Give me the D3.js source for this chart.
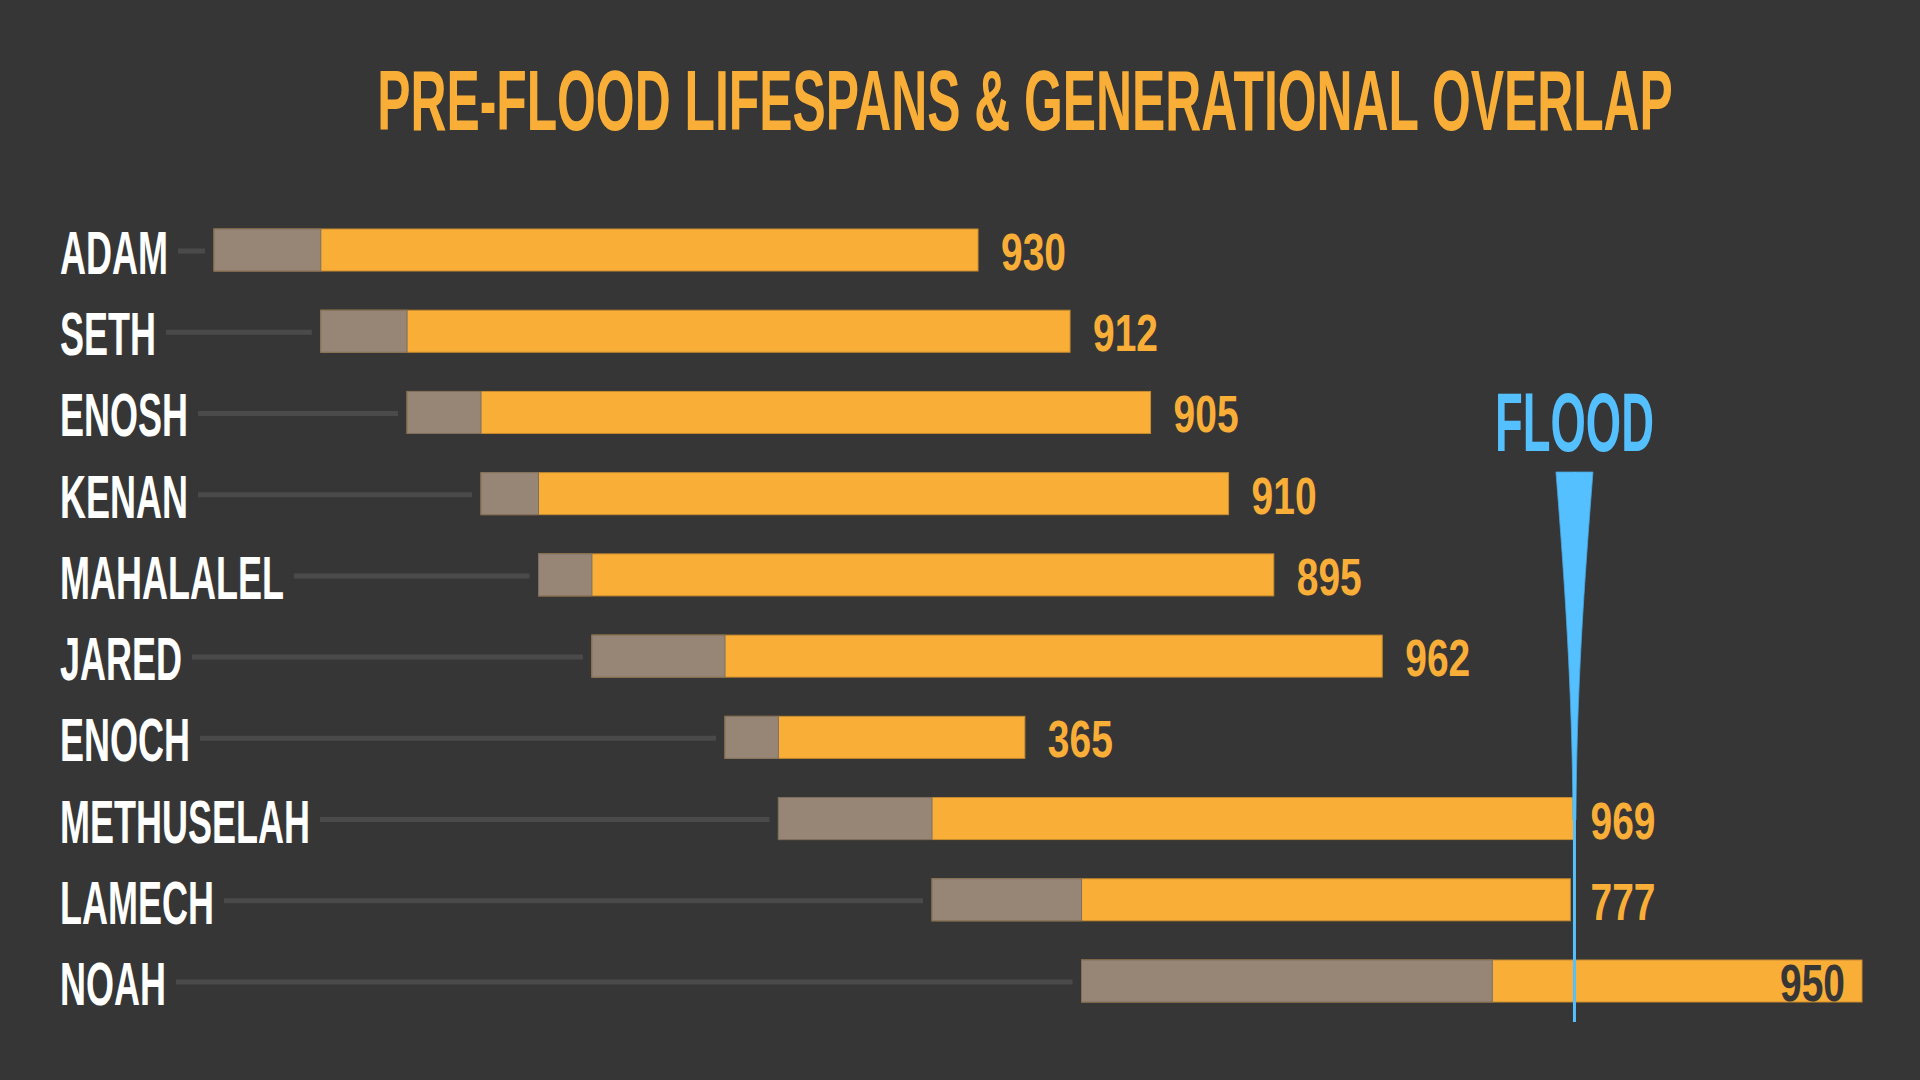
<!DOCTYPE html>
<html>
<head>
<meta charset="utf-8">
<script src="https://cdn.jsdelivr.net/npm/d3@7"></script>
<style>
  html, body { margin: 0; padding: 0; background: #363636; }
  svg { display: block; }
  text { font-family: "Liberation Sans Narrow", "Liberation Sans", "DejaVu Sans Condensed", Arial, sans-serif; font-weight: 700; }
</style>
</head>
<body>
<svg id="chart" width="1920" height="1080"></svg>
<script>
// ---- data ----
const names    = ["ADAM","SETH","ENOSH","KENAN","MAHALALEL","JARED","ENOCH","METHUSELAH","LAMECH","NOAH"];
const bornYear = [0, 130, 235, 325, 395, 460, 622, 687, 874, 1056];   // year after creation
const begatAge = [130, 105, 90, 70, 65, 162, 65, 187, 182, 500];      // age at next named son
const lifespan = [930, 912, 905, 910, 895, 962, 365, 969, 777, 950];
const floodYear = 1656;
const titleText = "PRE-FLOOD LIFESPANS & GENERATIONAL OVERLAP";
const floodLabel = "FLOOD";

const rows = names.map((n, i) => ({
  name: n, born: bornYear[i], begat: bornYear[i] + begatAge[i],
  died: bornYear[i] + lifespan[i], life: lifespan[i], inside: n === "NOAH"
}));

// ---- styling ----
const C = { bg: "#363636", orange: "#F9AE38", grey: "#978676", blue: "#55C0FF", white: "#FFFFFF", conn: "#4A4A4A" };

const svg = d3.select("#chart");
svg.append("rect").attr("width", 1920).attr("height", 1080).attr("fill", C.bg);

const x = d3.scaleLinear().domain([0, 2006]).range([214, 1862]);
const y = d3.scalePoint().domain(names).range([250, 981]);
const barH = 42;

// helper: measure natural width of a string at a font size
function measure(str, size) {
  const t = svg.append("text").attr("font-size", size).text(str);
  const w = t.node().getComputedTextLength();
  t.remove();
  return w;
}
const sName  = 108 / measure("ADAM", 61);
const sVal   = 65 / measure("930", 52);
const sTitle = 1296 / measure(titleText, 85);
const sFlood = 159 / measure(floodLabel, 84);

// title
svg.append("text")
  .attr("transform", `translate(1025,130) scale(${sTitle},1)`)
  .attr("text-anchor", "middle")
  .attr("font-size", 85)
  .attr("fill", C.orange)
  .text(titleText);

// rows
const g = svg.append("g");
const row = g.selectAll("g.row").data(rows).join("g").attr("class", "row");

row.append("text")
  .attr("class", "name")
  .attr("transform", d => `translate(60,${y(d.name) + 24}) scale(${sName},1)`)
  .attr("font-size", 61)
  .attr("fill", C.white)
  .text(d => d.name);

row.each(function(d) {
  const sel = d3.select(this);
  const w = sel.select("text.name").node().getComputedTextLength() * sName;
  sel.insert("line", "text")
    .attr("x1", 60 + w + 10)
    .attr("x2", x(d.born) - 9)
    .attr("y1", y(d.name) + 1)
    .attr("y2", y(d.name) + 1)
    .attr("stroke", C.conn)
    .attr("stroke-width", 5);
});

// orange (full life) bar
row.append("rect")
  .attr("x", d => x(d.born))
  .attr("y", d => y(d.name) - barH / 2)
  .attr("width", d => x(d.died) - x(d.born))
  .attr("height", barH)
  .attr("fill", C.orange)
  .attr("stroke", "#C98C2E")
  .attr("stroke-width", 1);

// grey (before next generation) bar
row.append("rect")
  .attr("x", d => x(d.born))
  .attr("y", d => y(d.name) - barH / 2)
  .attr("width", d => x(d.begat) - x(d.born))
  .attr("height", barH)
  .attr("fill", C.grey)
  .attr("stroke", "#7E6F60")
  .attr("stroke-width", 1);

// flood marker
const fx = x(floodYear);
svg.append("path")
  .attr("d", `M${fx - 18.5},472 L${fx + 18.5},472 C${fx + 10},580 ${fx + 2},690 ${fx + 1.5},820 L${fx - 1.5},820 C${fx - 2},690 ${fx - 10},580 ${fx - 18.5},472 Z`)
  .attr("fill", C.blue)
  .attr("stroke", "#4AA6DD")
  .attr("stroke-width", 0.8);
svg.append("line")
  .attr("x1", fx).attr("x2", fx)
  .attr("y1", 472).attr("y2", 1022)
  .attr("stroke", C.blue)
  .attr("stroke-width", 3);
svg.append("text")
  .attr("transform", `translate(${fx},451) scale(${sFlood},1)`)
  .attr("text-anchor", "middle")
  .attr("font-size", 84)
  .attr("fill", C.blue)
  .text(floodLabel);

// value labels
row.append("text")
  .attr("transform", d => d.inside
    ? `translate(${x(d.died) - 17},${y(d.name) + 20}) scale(${sVal},1)`
    : `translate(${d.died > floodYear - 10 ? fx + 16 : x(d.died) + 23},${y(d.name) + 20}) scale(${sVal},1)`)
  .attr("text-anchor", d => d.inside ? "end" : "start")
  .attr("font-size", 52)
  .attr("fill", d => d.inside ? C.bg : C.orange)
  .text(d => d.life);
</script>
</body>
</html>
